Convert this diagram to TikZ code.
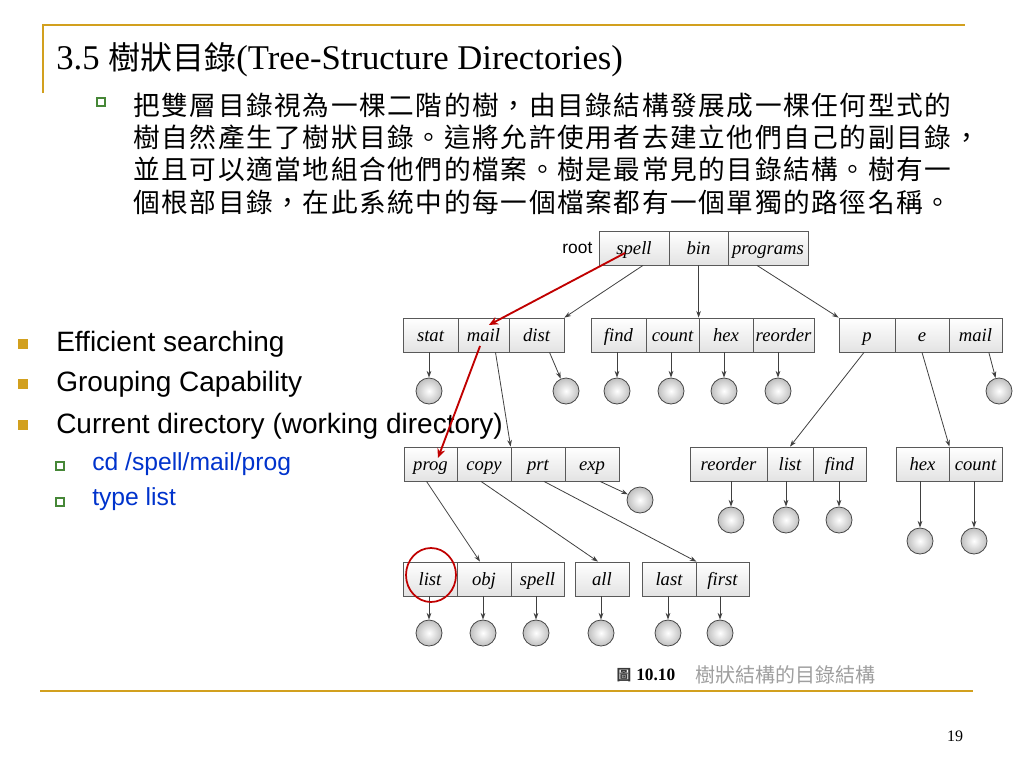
\documentclass[tikz,border=0pt]{standalone}
\usepackage{fontspec}
\setmainfont{Liberation Serif}
\setsansfont{Liberation Sans}
\newfontfamily\cjk{Noto Sans CJK TC}
\newfontfamily\cjkbody[LetterSpace=6]{Noto Sans CJK TC}
\usetikzlibrary{positioning,arrows.meta,shapes.geometric}
\definecolor{gold}{RGB}{210,160,30}
\definecolor{markred}{RGB}{192,0,0}
\definecolor{linkblue}{RGB}{0,51,204}
\definecolor{boxgreen}{RGB}{70,135,55}

\tikzset{
  cell/.style={draw=gray!70!black, line width=.6pt, top color=white, bottom color=gray!22,
    minimum height=25.5pt, inner sep=0pt, text height=11.5pt, text depth=2.5pt,
    font=\itshape\fontsize{14}{14}\selectfont},
  cw/.style={minimum width=#1*.75pt},
  leaf/.style={circle, draw=gray!55!black, line width=.6pt, inner color=white, outer color=gray!50,
    minimum size=19.5pt, inner sep=0pt},
  link/.style={draw=black!75, line width=.6pt, -{Stealth[length=5pt,width=3.5pt]}},
  walk/.style={draw=markred, line width=1.4pt, -{Stealth[length=7pt,width=6pt]}},
  goldbox/.style={fill=gold, minimum size=7.5pt, inner sep=0pt},
  greenbox/.style={draw=boxgreen, line width=.9pt, fill=white, minimum size=6pt, inner sep=0pt},
}

\begin{document}
\begin{tikzpicture}[x=.75pt,y=-.75pt]
  \useasboundingbox (0,0) rectangle (1024,768);

  % frame lines
  \draw[gold, line width=1.5pt] (43,93) -- (43,25) -- (965,25);
  \draw[gold, line width=1.5pt] (40,691) -- (973,691);

  \node[anchor=base west, inner sep=0pt, font=\fontsize{26}{28}\selectfont] (title) at (56,69)
    {3.5 {\cjk\fontsize{24}{28}\selectfont 樹狀目錄}(Tree-Structure Directories)};

  \node[greenbox] (b0) at (101,102) {};
  \begin{scope}[every node/.style={anchor=west, inner sep=0pt, font=\cjkbody\fontsize{20}{24}\selectfont}]
    \node (line1) at (133,105) {把雙層目錄視為一棵二階的樹，由目錄結構發展成一棵任何型式的};
    \node (line2) at (133,137) {樹自然產生了樹狀目錄。這將允許使用者去建立他們自己的副目錄，};
    \node (line3) at (133,169.5) {並且可以適當地組合他們的檔案。樹是最常見的目錄結構。樹有一};
    \node (line4) at (133,202) {個根部目錄，在此系統中的每一個檔案都有一個單獨的路徑名稱。};
  \end{scope}

  % tree cells
  \begin{scope}[every node/.style={cell}]
    \node[cw=70] (spell) at (634,248) {spell};
    \node[cw=59] (bin) at (698.5,248) {bin};
    \node[cw=80] (programs) at (768,248) {programs};

    \node[cw=55] (stat) at (430.5,335) {stat};
    \node[cw=51] (mailA) at (483.5,335) {mail};
    \node[cw=55] (dist) at (536.5,335) {dist};
    \node[cw=55] (find) at (618.5,335) {find};
    \node[cw=53] (count) at (672.5,335) {count};
    \node[cw=54] (hex) at (726,335) {hex};
    \node[cw=61] (reorder) at (783.5,335) {reorder};
    \node[cw=56] (p) at (867,335) {p};
    \node[cw=54] (e) at (922,335) {e};
    \node[cw=53] (mailC) at (975.5,335) {mail};

    \node[cw=53] (prog) at (430.5,464) {prog};
    \node[cw=54] (copy) at (484,464) {copy};
    \node[cw=54] (prt) at (538,464) {prt};
    \node[cw=54] (exp) at (592,464) {exp};
    \node[cw=77] (reorderE) at (728.5,464) {reorder};
    \node[cw=46] (listE) at (790,464) {list};
    \node[cw=53] (findE) at (839.5,464) {find};
    \node[cw=53] (hexF) at (922.5,464) {hex};
    \node[cw=53] (countF) at (975.5,464) {count};

    \node[cw=54] (list) at (430,579) {list};
    \node[cw=54] (obj) at (484,579) {obj};
    \node[cw=53] (spellG) at (537.5,579) {spell};
    \node[cw=54] (all) at (602,579) {all};
    \node[cw=54] (last) at (669,579) {last};
    \node[cw=53] (first) at (722.5,579) {first};
  \end{scope}
  \node[left=4.5pt of spell, inner sep=0pt, font=\sffamily\fontsize{13}{13}\selectfont] (root) {root};

  % files
  \begin{scope}[every node/.style={leaf}]
    \node (fStat) at (429,391) {};
    \node (fDist) at (566,391) {};
    \node (fFind) at (617,391) {};
    \node (fCount) at (671,391) {};
    \node (fHex) at (724,391) {};
    \node (fReorder) at (778,391) {};
    \node (fMail) at (999,391) {};
    \node (fExp) at (640,500) {};
    \node (fReorderE) at (731,520) {};
    \node (fListE) at (786,520) {};
    \node (fFindE) at (839,520) {};
    \node (fHexF) at (920,541) {};
    \node (fCountF) at (974,541) {};
    \node (fList) at (429,633) {};
    \node (fObj) at (483,633) {};
    \node (fSpell) at (536,633) {};
    \node (fAll) at (601,633) {};
    \node (fLast) at (668,633) {};
    \node (fFirst) at (720,633) {};
  \end{scope}

  \begin{scope}[every edge/.style={link}]
    \path ([xshift=6.75pt]spell.south) edge (dist.north east);
    \path (bin.south) edge (hex.north west);
    \path ([xshift=-8.25pt]programs.south) edge (p.north west);
    \path ([xshift=9pt]mailA.south) edge (prt.north west);
    \path ([xshift=-2.25pt]p.south) edge (listE.north);
    \path (e.south) edge (hexF.north east);
    \path ([xshift=10pt]mailC.south) edge (fMail);
    \path ([xshift=9.75pt]dist.south) edge (fDist);
    \path ([xshift=-3pt]prog.south) edge ([xshift=-3pt]obj.north);
    \path ([xshift=-2.25pt]copy.south) edge ([xshift=-3pt]all.north);
    \path ([xshift=4.5pt]prt.south) edge (last.north east);
    \path ([xshift=6pt]exp.south) edge (fExp);
    \path (stat.south -| fStat) edge (fStat);
    \path (find.south -| fFind) edge (fFind);
    \path (count.south -| fCount) edge (fCount);
    \path (hex.south -| fHex) edge (fHex);
    \path (reorder.south -| fReorder) edge (fReorder);
    \path (reorderE.south -| fReorderE) edge (fReorderE);
    \path (listE.south -| fListE) edge (fListE);
    \path (findE.south -| fFindE) edge (fFindE);
    \path (hexF.south -| fHexF) edge (fHexF);
    \path (countF.south -| fCountF) edge (fCountF);
    \path (list.south -| fList) edge (fList);
    \path (obj.south -| fObj) edge (fObj);
    \path (spellG.south -| fSpell) edge (fSpell);
    \path (all.south -| fAll) edge (fAll);
    \path (last.south -| fLast) edge (fLast);
    \path (first.south -| fFirst) edge (fFirst);
  \end{scope}

  % caption
  \node[inner sep=0pt, font=\cjk\bfseries\fontsize{11}{11}\selectfont, text=gray!45!black] (capicon) at (624,675) {圖};
  \node[anchor=west, inner sep=0pt, font=\bfseries\fontsize{13}{13}\selectfont] (capnum) at (636,675) {10.10};
  \node[anchor=west, inner sep=0pt, font=\cjk\fontsize{15}{15}\selectfont, text=gray!75] (captext) at (695,675) {樹狀結構的目錄結構};

  % bullets
  \begin{scope}[every node/.style={anchor=west, inner sep=0pt, font=\sffamily\fontsize{21}{24}\selectfont}]
    \node (item1) at (56,344) {Efficient searching};
    \node (item2) at (56,384.5) {Grouping Capability};
    \node (item3) at (56,426) {Current directory (working directory)};
  \end{scope}
  \node[goldbox] (g1) at (23,344) {};
  \node[goldbox] (g2) at (23,384) {};
  \node[goldbox] (g3) at (23,425) {};
  \node[greenbox] (s1) at (60,466) {};
  \node[greenbox] (s2) at (60,502) {};
  \begin{scope}[every node/.style={anchor=west, inner sep=0pt, text=linkblue, font=\sffamily\fontsize{18.5}{22}\selectfont}]
    \node (cmd1) at (92,464) {cd /spell/mail/prog};
    \node (cmd2) at (92,499) {type list};
  \end{scope}

  % current path
  \node[ellipse, draw=markred, line width=1.3pt, minimum width=37.5pt, minimum height=40.5pt, inner sep=0pt] (ring) at (431,575) {};
  \draw[walk] ([xshift=-6.75pt,yshift=-3.75pt]spell.center) -- ([xshift=4pt,yshift=7.5pt]mailA.center);
  \draw[walk] ([xshift=-2.6pt,yshift=-8.25pt]mailA.center) -- ([xshift=5.6pt,yshift=4.5pt]prog.center);

  \node[font=\fontsize{12}{12}\selectfont, inner sep=0pt] (page) at (955,736) {19};
\end{tikzpicture}
\end{document}
